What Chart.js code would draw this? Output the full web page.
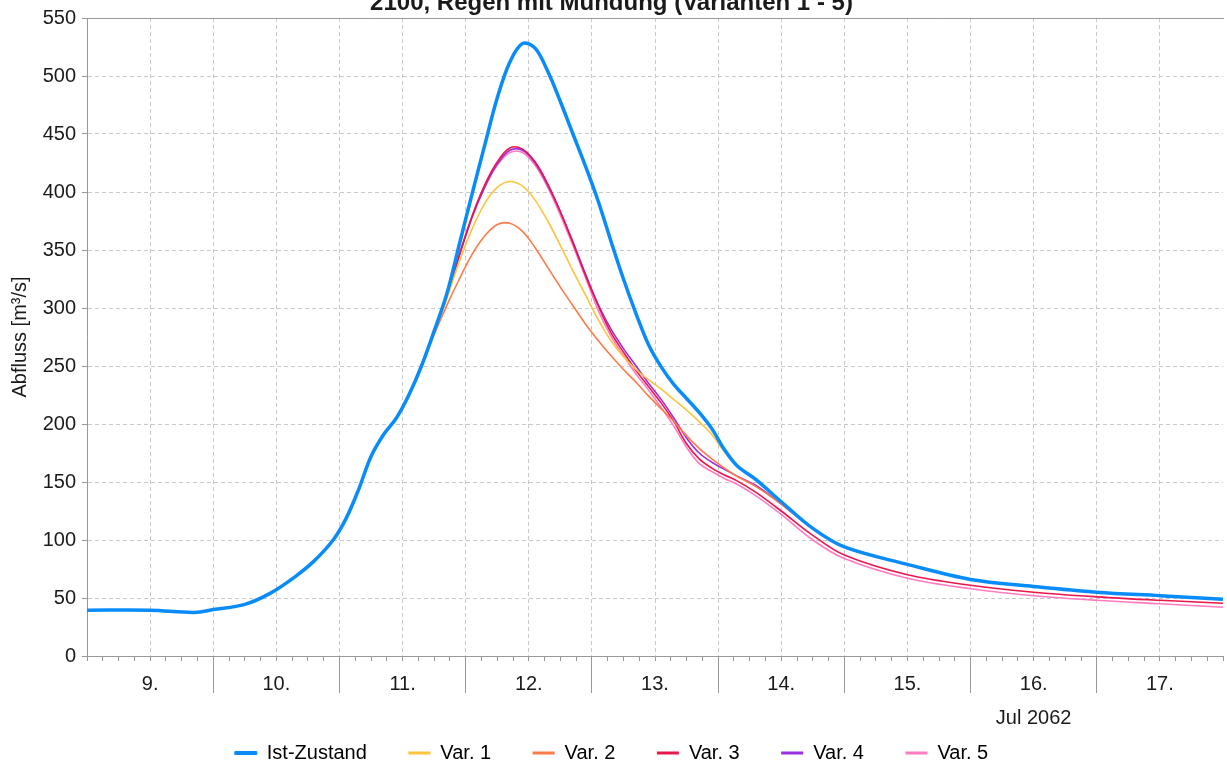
<!DOCTYPE html>
<html><head><meta charset="utf-8">
<script src="https://cdn.jsdelivr.net/npm/chart.js@4/dist/chart.umd.min.js"></script>
<style>html,body{margin:0;padding:0;background:#fff;overflow:hidden}canvas{display:block}</style>
</head><body>
<canvas id="c" width="1227" height="769"></canvas>
<script>
// time in days since 9 Jul 2062 00:00
const timeDays = [0, 0.5, 0.85, 1.0, 1.25, 1.45, 1.65, 1.8, 1.95, 2.05, 2.15, 2.25, 2.35, 2.45, 2.55, 2.65,
  2.75, 2.85, 2.95, 3.05, 3.15, 3.25, 3.35, 3.45, 3.55, 3.65, 3.75, 3.85, 3.95, 4.05, 4.15, 4.25, 4.35, 4.45, 4.55, 4.65,
  4.75, 4.85, 4.95, 5.05, 5.15, 5.3, 5.5, 5.75, 6.0, 6.5, 7.0, 7.5, 8.0, 8.5, 9.0];
const dayLabels = ['9.', '10.', '11.', '12.', '13.', '14.', '15.', '16.', '17.'];
const monthLabel = 'Jul 2062';
const monthLabelDay = 7;
const seriesNames = ['Ist-Zustand', 'Var. 1', 'Var. 2', 'Var. 3', 'Var. 4', 'Var. 5'];
const seriesColors = ['#0A8CF8', '#FFC43C', '#FF7A48', '#E8174C', '#9A2FE0', '#FF7CC2'];

const istZustand = [39.5, 39.5, 37.6, 40, 44.5, 54, 68.5, 82, 100, 118, 143, 172, 191, 205, 225, 250,
  280, 312, 355, 398, 440, 481, 512, 528, 524, 504, 478, 450, 422, 392, 358, 325, 295, 268, 249, 234,
  222, 210, 196, 178, 164, 152, 133, 110, 94, 79, 66, 60, 55, 52, 49];
const var1 = [39.5, 39.5, 37.6, 40, 44.5, 54, 68.5, 82, 100, 118, 143, 172, 191, 205, 225, 250,
  279, 308, 340, 368, 390, 404, 409, 405, 393, 375, 354, 332, 311, 290, 272, 258, 247, 238, 230, 221,
  212, 202, 191, 176, 164, 152, 133, 110, 94, 79, 66, 60, 55, 52, 49];
const var2 = [39.5, 39.5, 37.6, 40, 44.5, 54, 68.5, 82, 100, 118, 143, 172, 191, 205, 225, 250,
  277, 302, 325, 346, 362, 372, 373, 366, 352, 335, 318, 302, 286, 272, 259, 247, 236, 224, 213, 202,
  190, 179, 170, 162, 155, 146, 131, 110, 94, 79, 66, 60, 55, 52, 49];
const var3 = [39.5, 39.5, 37.6, 40, 44.5, 54, 68.5, 82, 100, 118, 143, 172, 191, 205, 225, 250,
  280, 311, 346, 379, 406, 426, 438, 437, 426, 407, 383, 356, 328, 302, 279, 262, 246, 232, 218, 202,
  183, 170, 162, 156, 151, 141, 125, 104, 87, 70, 61, 55, 51, 48, 45.5];
const var4 = [39.5, 39.5, 37.6, 40, 44.5, 54, 68.5, 82, 100, 118, 143, 172, 191, 205, 225, 250,
  280, 310, 345, 378, 404, 424, 436, 436, 425, 406, 383, 357, 329, 303, 282, 265, 250, 235, 221, 205,
  188, 175, 167, 161, 155, 147, 131, 110, 94, 79, 66, 60, 55, 52, 49];
const var5 = [39.5, 39.5, 37.6, 40, 44.5, 54, 68.5, 82, 100, 118, 143, 172, 191, 205, 225, 250,
  280, 311, 346, 378, 404, 423, 434, 434, 423, 404, 380, 354, 326, 298, 276, 259, 243, 229, 214, 198,
  180, 166, 159, 153, 148, 138, 122, 100, 84, 67, 58, 52, 48, 45, 42];
const seriesValues = [istZustand, var1, var2, var3, var4, var5];
const yTicks = [0, 50, 100, 150, 200, 250, 300, 350, 400, 450, 500, 550];

const FONT = "'Liberation Sans', Arial, sans-serif";
const TXT = '#1a1a1a';
const AXIS = '#999999';
const GRID = '#c9c9c9';
const NONE = 'rgba(0,0,0,0)';

const datasets = seriesNames.map((name, i) => ({
  label: name,
  data: timeDays.map((t, k) => ({x: t, y: seriesValues[i][k]})),
  borderColor: seriesColors[i],
  backgroundColor: seriesColors[i],
  borderWidth: i === 0 ? 3.5 : 1.6,
  pointRadius: 0,
  tension: 0.35,
  fill: false
}));

const isHalf = v => Math.abs(v * 2 - Math.round(v * 2)) < 1e-6;
const isNoon = v => Math.abs((v - Math.floor(v)) - 0.5) < 1e-6;

new Chart(document.getElementById('c'), {
  type: 'line',
  data: {datasets},
  options: {
    responsive: false,
    animation: false,
    devicePixelRatio: 1,
    layout: {padding: {left: 0, right: 4, top: 0, bottom: 0}},
    plugins: {
      title: {
        display: true,
        text: '2100, Regen mit Mündung (Varianten 1 - 5)',
        color: TXT,
        font: {family: FONT, size: 24, weight: 'bold', lineHeight: 1},
        padding: {top: -11, bottom: 3}
      },
      legend: {
        display: true,
        position: 'bottom',
        maxHeight: 67.5,
        labels: {
          font: {family: FONT, size: 20},
          color: TXT,
          boxWidth: 22,
          boxHeight: 3,
          padding: 41.5,
          generateLabels: (chart) => chart.data.datasets.map((ds, i) => ({
            text: ds.label,
            fillStyle: ds.borderColor,
            strokeStyle: ds.borderColor,
            lineWidth: i === 0 ? 1 : 0,
            hidden: false,
            datasetIndex: i
          }))
        }
      },
      tooltip: {enabled: false}
    },
    scales: {
      x: {
        type: 'linear',
        position: 'bottom',
        min: 0, max: 9,
        afterBuildTicks: (s) => { s.ticks = []; for (let k = 0; k <= 72; k++) s.ticks.push({value: k / 8}); },
        afterFit: (s) => { s.height = 5; },
        ticks: {display: false},
        grid: {
          display: true,
          drawOnChartArea: true,
          drawTicks: true,
          tickLength: 5,
          tickColor: AXIS,
          tickWidth: 1,
          lineWidth: 1,
          color: (ctx) => {
            const v = ctx.tick ? ctx.tick.value : 0;
            if (v <= 0 || v >= 9) return NONE;
            return isHalf(v) ? GRID : NONE;
          }
        },
        border: {display: true, color: AXIS, width: 1, dash: [4, 3]}
      },
      xLab: {
        type: 'linear',
        position: 'bottom',
        min: 0, max: 9,
        afterBuildTicks: (s) => { s.ticks = []; for (let k = 0; k <= 18; k++) s.ticks.push({value: k / 2}); },
        afterFit: (s) => { s.height = 40.5; },
        ticks: {
          autoSkip: false,
          maxRotation: 0,
          padding: -21,
          color: TXT,
          font: {family: FONT, size: 20, lineHeight: 1.2},
          callback: (v) => isNoon(v) ? dayLabels[Math.floor(v)] : ''
        },
        grid: {
          display: true,
          drawOnChartArea: false,
          drawTicks: true,
          tickLength: 32,
          tickWidth: 1,
          tickColor: (ctx) => {
            const v = ctx.tick ? ctx.tick.value : 0;
            return (isNoon(v) || v <= 0 || v >= 9) ? NONE : AXIS;
          }
        },
        border: {display: false}
      },
      xMonth: {
        type: 'linear',
        position: 'bottom',
        min: 0, max: 9,
        afterBuildTicks: (s) => { s.ticks = [{value: monthLabelDay + 0.5}]; },
        afterFit: (s) => { s.height = 0; },
        ticks: {
          autoSkip: false,
          maxRotation: 0,
          mirror: true,
          padding: -28.5,
          color: TXT,
          font: {family: FONT, size: 20, lineHeight: 1.2},
          callback: () => monthLabel
        },
        grid: {display: false, drawTicks: false},
        border: {display: false}
      },
      xTop: {
        type: 'linear',
        position: 'top',
        min: 0, max: 9,
        afterFit: (s) => { s.height = 0; },
        ticks: {display: false},
        grid: {display: false, drawTicks: false},
        border: {display: true, color: AXIS, width: 1}
      },
      y: {
        type: 'linear',
        position: 'left',
        min: 0, max: 550,
        afterBuildTicks: (s) => { s.ticks = yTicks.map(v => ({value: v})); },
        afterFit: (s) => { s.width = 87; },
        ticks: {
          padding: 6,
          color: TXT,
          font: {family: FONT, size: 20},
          callback: (v) => String(v)
        },
        title: {
          display: true,
          text: 'Abfluss [m³/s]',
          color: TXT,
          font: {family: FONT, size: 20, lineHeight: 1.2},
          padding: {top: 8, bottom: 0}
        },
        grid: {
          display: true,
          drawTicks: true,
          tickLength: 5,
          tickColor: AXIS,
          lineWidth: 1,
          color: (ctx) => {
            const v = ctx.tick ? ctx.tick.value : 0;
            return (v <= 0 || v >= 550) ? NONE : GRID;
          }
        },
        border: {display: true, color: AXIS, width: 1, dash: [4, 3]}
      }
    }
  }
});
</script>
</body></html>
